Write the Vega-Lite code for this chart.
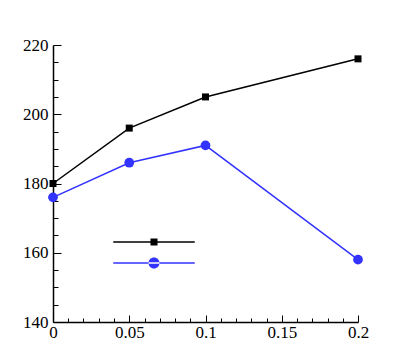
{
  "$schema": "https://vega.github.io/schema/vega-lite/v6.json",
  "autosize": {"type": "none"},
  "padding": {"left": 53, "top": 45, "right": 49, "bottom": 40},
  "width": 305,
  "height": 277,
  "background": "white",
  "config": {
    "view": {"stroke": null},
    "font": "Liberation Serif",
    "axis": {
      "grid": false,
      "domainColor": "black",
      "domainWidth": 1.5,
      "tickColor": "black",
      "tickWidth": 1,
      "labelFont": "Liberation Serif",
      "labelFontSize": 17,
      "labelColor": "black",
      "labelOverlap": false,
      "labelBound": false,
      "labelFlush": false,
      "title": null
    }
  },
  "data": {
    "values": [
      {"x": 0, "y": 180, "series": "A"},
      {"x": 0.05, "y": 196, "series": "A"},
      {"x": 0.1, "y": 205, "series": "A"},
      {"x": 0.2, "y": 216, "series": "A"},
      {"x": 0, "y": 176, "series": "B"},
      {"x": 0.05, "y": 186, "series": "B"},
      {"x": 0.1, "y": 191, "series": "B"},
      {"x": 0.2, "y": 158, "series": "B"}
    ]
  },
  "encoding": {
    "x": {
      "field": "x",
      "type": "quantitative",
      "scale": {"domain": [0, 0.2], "nice": false, "zero": false},
      "axis": {
        "values": [0, 0.01, 0.02, 0.03, 0.04, 0.05, 0.06, 0.07, 0.08, 0.09, 0.1, 0.11, 0.12, 0.13, 0.14, 0.15, 0.16, 0.17, 0.18, 0.19, 0.2],
        "labelExpr": "round(datum.value*100) % 5 == 0 ? format(datum.value, '~g') : ''",
        "tickSize": {"condition": {"test": "round(datum.value*100) % 5 == 0", "value": -7}, "value": -4},
        "labelPadding": 9
      }
    },
    "y": {
      "field": "y",
      "type": "quantitative",
      "scale": {"domain": [140, 220], "nice": false, "zero": false},
      "axis": {
        "values": [140, 145, 150, 155, 160, 165, 170, 175, 180, 185, 190, 195, 200, 205, 210, 215, 220],
        "labelExpr": "datum.value % 20 == 0 ? datum.value : ''",
        "tickSize": {"condition": {"test": "datum.value % 20 == 0", "value": -8}, "value": -5},
        "labelPadding": 13
      }
    },
    "color": {
      "field": "series",
      "type": "nominal",
      "scale": {"domain": ["A", "B"], "range": ["black", "#3333ff"]},
      "legend": {
        "orient": "none",
        "legendX": 96,
        "legendY": 192,
        "padding": 0,
        "title": null,
        "labelExpr": "''",
        "symbolSize": 100,
        "rowPadding": 10,
        "encode": {
          "symbols": {
            "update": {
              "shape": {"signal": "datum.value === 'A' ? 'M-8.15,-0.15H8.15V0.15H-8.15ZM-0.7,-0.7H0.7V0.7H-0.7Z' : 'M-8.15,-0.15H8.15V0.15H-8.15ZM-1.1,0A1.1,1.1,0,1,0,1.1,0A1.1,1.1,0,1,0,-1.1,0Z'"},
              "size": {"value": 100},
              "fill": {"signal": "datum.value === 'A' ? 'black' : '#3333ff'"},
              "stroke": {"value": "transparent"},
              "strokeWidth": {"value": 0},
              "fillOpacity": {"value": 1},
              "opacity": {"value": 1}
            }
          }
        }
      }
    }
  },
  "layer": [
    {"mark": {"type": "line", "strokeWidth": 1.5}},
    {
      "transform": [{"filter": "datum.series === 'A'"}],
      "mark": {"type": "point", "filled": true, "opacity": 1, "shape": "square", "size": 49}
    },
    {
      "transform": [{"filter": "datum.series === 'B'"}],
      "mark": {"type": "point", "filled": true, "opacity": 1, "shape": "circle", "size": 95}
    }
  ]
}
